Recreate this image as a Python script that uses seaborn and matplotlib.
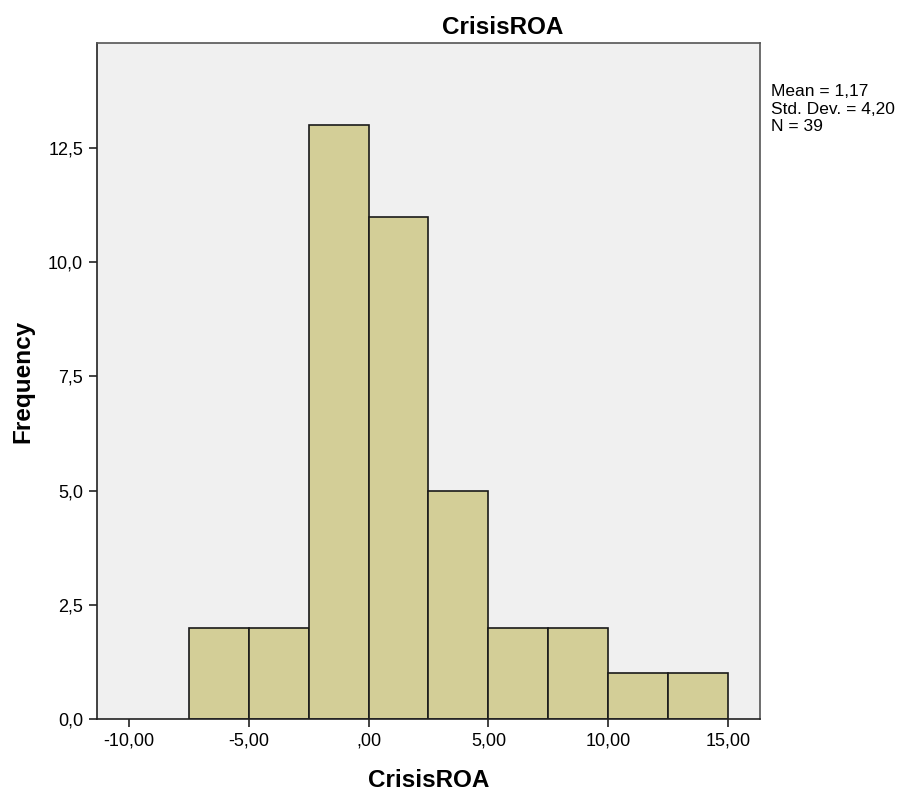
import numpy as np
import pandas as pd
import seaborn as sns
import matplotlib.pyplot as plt
from matplotlib.ticker import FuncFormatter

# ==============================
# Data
# ==============================
bin_edges = [-7.5, -5.0, -2.5, 0.0, 2.5, 5.0, 7.5, 10.0, 12.5, 15.0]
bin_counts = [2, 2, 13, 11, 5, 2, 2, 1, 1]
x_ticks = [-10, -5, 0, 5, 10, 15]
y_ticks = [0, 2.5, 5.0, 7.5, 10.0, 12.5]
stats_text = "Mean = 1,17\nStd. Dev. = 4,20\nN = 39"

bin_centers = [(a + b) / 2 for a, b in zip(bin_edges[:-1], bin_edges[1:])]
df = pd.DataFrame({"CrisisROA": bin_centers, "count": bin_counts})

# ==============================
# Plot
# ==============================
sns.set_style("white")
plt.rcParams["font.family"] = ["Liberation Sans", "DejaVu Sans"]
plt.rcParams["text.color"] = "black"
plt.rcParams["axes.labelcolor"] = "black"
plt.rcParams["xtick.color"] = "black"
plt.rcParams["ytick.color"] = "black"

fig = plt.figure(figsize=(9.04, 7.95), dpi=100)
ax = fig.add_axes([0.1073, 0.0956, 0.7334, 0.8503])
ax.set_facecolor("#F0F0F0")

sns.histplot(data=df, x="CrisisROA", weights="count", bins=bin_edges,
             color="#D3CE97", alpha=1, edgecolor="#1a1a1a", linewidth=1.2, ax=ax)

ax.set_xlim(-11.34, 16.34)
ax.set_ylim(0, 14.8)
ax.set_xticks(x_ticks)
ax.set_yticks(y_ticks)

def x_fmt(v, pos):
    if v == 0:
        return ",00"
    return f"{v:.2f}".replace(".", ",")

ax.xaxis.set_major_formatter(FuncFormatter(x_fmt))
ax.yaxis.set_major_formatter(FuncFormatter(lambda v, p: f"{v:.1f}".replace(".", ",")))
ax.tick_params(axis="both", length=6, width=1.2, color="#222222", labelsize=13,
               bottom=True, left=True, direction="out", pad=4)

for side in ["left", "bottom", "top", "right"]:
    ax.spines[side].set_visible(True)
    ax.spines[side].set_color("#222222")
    ax.spines[side].set_linewidth(1.2)
ax.spines["top"].set_color("#555555")
ax.spines["right"].set_color("#555555")

ax.set_xlabel("CrisisROA", fontsize=17.5, fontweight="bold", labelpad=14)
ax.set_ylabel("Frequency", fontsize=17.5, fontweight="bold", labelpad=10)
# SPSS puts the title a bit right of the plot centre
fig.text(0.556, 0.966, "CrisisROA", fontsize=17.5, fontweight="bold", ha="center", va="center")

fig.text(0.853, 0.894, stats_text, fontsize=12.5, va="top", ha="left", linespacing=1.2)

plt.savefig("out.png", dpi=100, facecolor="white")
